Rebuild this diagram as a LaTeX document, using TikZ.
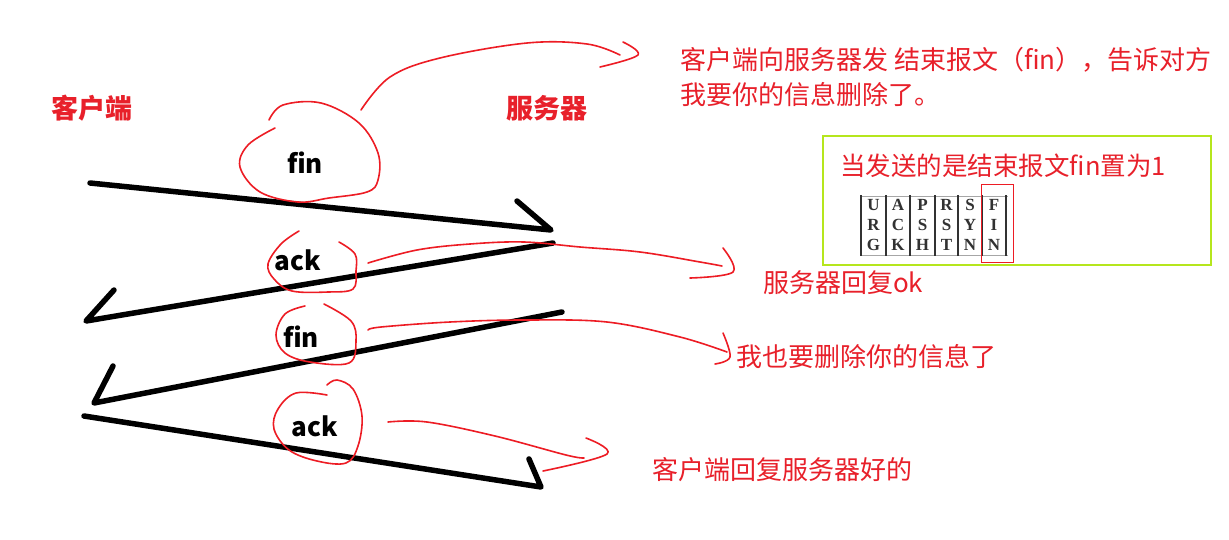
\documentclass[tikz,border=0pt]{standalone}
\usepackage{fontspec}
\newfontfamily\cjk{Noto Sans CJK SC}
\newfontfamily\flagfont{Liberation Serif}
\definecolor{penred}{RGB}{237,28,36}
\definecolor{txtred}{RGB}{232,32,42}
\definecolor{lime}{RGB}{181,230,29}
\definecolor{flaggray}{RGB}{50,50,50}
\tikzset{
  blackpen/.style={line width=5.5pt, line cap=round, line join=round, black},
  redpen/.style={line width=1.6pt, line cap=round, line join=round, penred},
  redtxt/.style={inner sep=0pt, text=txtred, font=\cjk\fontsize{26}{35}\selectfont},
  sidelabel/.style={inner sep=0pt, text=txtred, font=\cjk\bfseries\fontsize{27}{30}\selectfont},
  msglabel/.style={inner sep=0pt, text=black, font=\cjk\bfseries\fontsize{26}{30}\selectfont},
  flagletter/.style={inner sep=0pt, text=flaggray, font=\flagfont\bfseries\fontsize{17}{18}\selectfont},
}
\begin{document}
\begin{tikzpicture}[x=1pt,y=-1pt]
\useasboundingbox[fill=white] (0,0) rectangle (1229,539);

% side labels
\node[sidelabel] (client) at (92,108) {客户端};
\node[sidelabel] (server) at (547,108) {服务器};

% message labels
\node[msglabel] (fin1) at (305,163) {fin};
\node[msglabel] (ack1) at (298,260) {ack};
\node[msglabel] (fin2) at (301,337) {fin};
\node[msglabel] (ack2) at (315,426) {ack};

% black arrows
\coordinate (a1s) at (90,183);
\coordinate (a1e) at (551,230);
\coordinate (a1h) at (517,201);
\draw[blackpen] (a1s) -- (a1e) -- (a1h);

\coordinate (a2s) at (553,243);
\coordinate (a2e) at (86,321);
\coordinate (a2h) at (114,290);
\draw[blackpen] (a2s) -- (a2e) -- (a2h);

\coordinate (a3s) at (562,312);
\coordinate (a3e) at (94,403);
\coordinate (a3h) at (113,366);
\draw[blackpen] (a3s) -- (a3e) -- (a3h);

\coordinate (a4s) at (84,416);
\coordinate (a4e) at (541,487);
\coordinate (a4h) at (529,459);
\draw[blackpen] (a4s) -- (a4e) -- (a4h);

% red circles
\draw[redpen] plot[smooth, tension=0.6] coordinates {(269,120) (283,105) (321,103) (359,123) (378,153) (378,180) (367,192) (329,198) (298,202) (260,192) (240,167) (248,145) (275,128)};
\draw[redpen] plot[smooth, tension=0.6] coordinates {(299,231) (281,244) (268,264) (274,279) (292,291) (328,292) (353,289) (356,271) (355,254) (339,242)};
\draw[redpen] plot[smooth, tension=0.6] coordinates {(305,306) (285,314) (276,335) (285,353) (310,362) (349,363) (356,341) (351,321) (324,304)};
\draw[redpen] plot[smooth, tension=0.6] coordinates {(327,395) (296,393) (278,409) (274,429) (289,450) (317,461) (346,463) (358,446) (362,416) (353,389) (337,380) (327,385)};

% red texts
\node[redtxt, anchor=north west, align=left] (note1) at (680,47) {客户端向服务器发 结束报文（fin），告诉对方\\我要你的信息删除了。};
\node[redtxt, anchor=west] (note2) at (763,283) {服务器回复ok};
\node[redtxt, anchor=west] (note3) at (736,357) {我也要删除你的信息了};
\node[redtxt, anchor=west] (note4) at (652,470) {客户端回复服务器好的};

% red connectors
\draw[redpen] plot[smooth, tension=0.6] coordinates {(361,110) (390,77) (440,58) (527,43) (587,44) (620,55)};
\draw[redpen] plot[smooth, tension=0.6] coordinates {(623,42) (638,55) (600,67)};

\draw[redpen] plot[smooth, tension=0.6] coordinates {(368,263) (417,250) (470,244) (524,242) (580,247) (640,252) (700,262) (722,266)};
\draw[redpen] plot[smooth, tension=0.6] coordinates {(723,248) (733,272) (690,278)};

\draw[redpen] plot[smooth, tension=0.6] coordinates {(368,330) (381,327) (450,322) (524,320) (607,322) (680,337) (727,352)};
\draw[redpen] plot[smooth, tension=0.6] coordinates {(723,333) (730,357) (715,364)};

\draw[redpen] plot[smooth, tension=0.6] coordinates {(388,422) (427,422) (495,436) (566,455) (584,458)};
\draw[redpen] plot[smooth, tension=0.6] coordinates {(586,438) (607,454) (543,471)};

% green box
\node[draw=lime, line width=1.6pt, minimum width=388pt, minimum height=129pt, anchor=north west, inner sep=0pt] (flagbox) at (822,135) {};
\node[redtxt, anchor=west, font=\cjk\fontsize{25.5}{30}\selectfont] (note5) at (840,166) {当发送的是结束报文fin置为1};

% flag table
\draw[gray!70, line width=1pt] (861,196) -- (1008,196) (861,255) -- (1008,255);
\foreach \x in {861,886,910,935,958,982,1006} {
  \draw[flaggray, line width=2pt] (\x,195) -- (\x,256);
}
\foreach \c/\x/\a/\b/\d in {1/873.5/U/R/G, 2/898/A/C/K, 3/922.5/P/S/H, 4/946.5/R/S/T, 5/970/S/Y/N, 6/994/F/I/N} {
  \node[flagletter] (f\c a) at (\x,205) {\a};
  \node[flagletter] (f\c b) at (\x,225) {\b};
  \node[flagletter] (f\c c) at (\x,245) {\d};
}
\node[draw=penred, line width=1.4pt, minimum width=32pt, minimum height=78pt, anchor=north west, inner sep=0pt] (finmark) at (981,184) {};
\end{tikzpicture}
\end{document}
